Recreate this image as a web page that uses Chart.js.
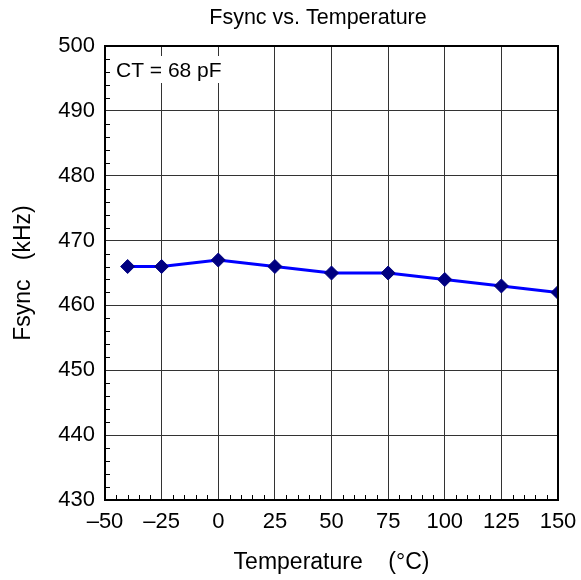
<!DOCTYPE html>
<html>
<head>
<meta charset="utf-8">
<script src="https://cdn.jsdelivr.net/npm/chart.js@4"></script>
<style>
  html, body { margin: 0; padding: 0; background: #fff; }
  #wrap { width: 581px; height: 580px; }
</style>
</head>
<body>
<div id="wrap"><canvas id="chart"></canvas></div>
<script>
const temps = [-40, -25, 0, 25, 50, 75, 100, 125, 150];
const fsync = [466, 466, 467, 466, 465, 465, 464, 463, 462];
const xTicks = [-50, -25, 0, 25, 50, 75, 100, 125, 150];
const yTicks = [430, 440, 450, 460, 470, 480, 490, 500];
const chartTitle = 'Fsync vs. Temperature';
const note = 'CT = 68 pF';

const fontFamily = 'Arial, "Liberation Sans", sans-serif';

// title, frame, minor ticks and the CT note
const extras = {
    id: 'extras',
    afterDraw(chart){
        const c = chart.ctx;
        const a = chart.chartArea;
        const xs = chart.scales.x, ys = chart.scales.y;
        c.save();
        c.strokeStyle = '#000';
        c.lineWidth = 1;
        c.beginPath();
        for (let v = -50; v <= 150; v += 5){
            if (v % 25 === 0) continue;
            const px = Math.round(xs.getPixelForValue(v)) + 0.5;
            c.moveTo(px, a.bottom);
            c.lineTo(px, a.bottom - 5);
        }
        for (let v = 430; v <= 500; v += 2){
            if (v % 10 === 0) continue;
            const py = Math.round(ys.getPixelForValue(v)) + 0.5;
            c.moveTo(a.left, py);
            c.lineTo(a.left + 5, py);
        }
        c.stroke();
        c.lineWidth = 2;
        c.strokeRect(a.left, a.top, a.right - a.left, a.bottom - a.top);

        c.font = '21.5px ' + fontFamily;
        c.fillStyle = '#000';
        c.textAlign = 'center';
        c.textBaseline = 'middle';
        c.fillText(chartTitle, 318, 18);

        c.font = '21px ' + fontFamily;
        c.textAlign = 'left';
        c.textBaseline = 'alphabetic';
        const w = c.measureText(note).width;
        c.fillStyle = '#fff';
        c.fillRect(a.left + 7, a.top + 10, w + 8, 27);
        c.fillStyle = '#000';
        c.fillText(note, a.left + 11, a.top + 31);
        c.restore();
    }
};

new Chart(document.getElementById('chart'), {
    type: 'line',
    data: {
        datasets: [{
            data: temps.map((t, i) => ({x: t, y: fsync[i]})),
            borderColor: '#0000ff',
            borderWidth: 3,
            pointStyle: 'rectRot',
            pointRadius: 7,
            pointBackgroundColor: '#000080',
            pointBorderColor: '#000080',
            pointBorderWidth: 1,
            tension: 0
        }]
    },
    options: {
        responsive: true,
        maintainAspectRatio: false,
        animation: false,
        layout: { padding: { left: 0, right: 23, top: 46, bottom: 0 } },
        plugins: {
            legend: { display: false },
            tooltip: { enabled: false },
            title: { display: false }
        },
        scales: {
            x: {
                type: 'linear',
                min: -50,
                max: 150,
                afterBuildTicks: (s) => { s.ticks = xTicks.map(v => ({value: v})); },
                afterFit: (s) => { s.height = 80; s.paddingLeft = 0; s.paddingRight = 0; },
                grid: { color: '#333', lineWidth: 1, drawTicks: false },
                border: { color: '#000', width: 2 },
                ticks: {
                    color: '#000',
                    padding: 9,
                    maxRotation: 0,
                    font: { size: 22, family: fontFamily },
                    callback: (v) => (v < 0 ? '\u2013' + Math.abs(v) : String(v))
                },
                title: {
                    display: true,
                    text: 'Temperature    (°C)',
                    color: '#000',
                    font: { size: 23, family: fontFamily },
                    padding: { top: 7 }
                }
            },
            y: {
                min: 430,
                max: 500,
                afterBuildTicks: (s) => { s.ticks = yTicks.map(v => ({value: v})); },
                afterFit: (s) => { s.width = 105; s.paddingTop = 0; s.paddingBottom = 0; },
                grid: { color: '#333', lineWidth: 1, drawTicks: false },
                border: { color: '#000', width: 2 },
                ticks: {
                    color: '#000',
                    padding: 10,
                    font: { size: 22, family: fontFamily }
                },
                title: {
                    display: true,
                    text: 'Fsync   (kHz)',
                    color: '#000',
                    font: { size: 23, family: fontFamily },
                    padding: { top: 10, bottom: 0 }
                }
            }
        }
    },
    plugins: [extras]
});
</script>
</body>
</html>
